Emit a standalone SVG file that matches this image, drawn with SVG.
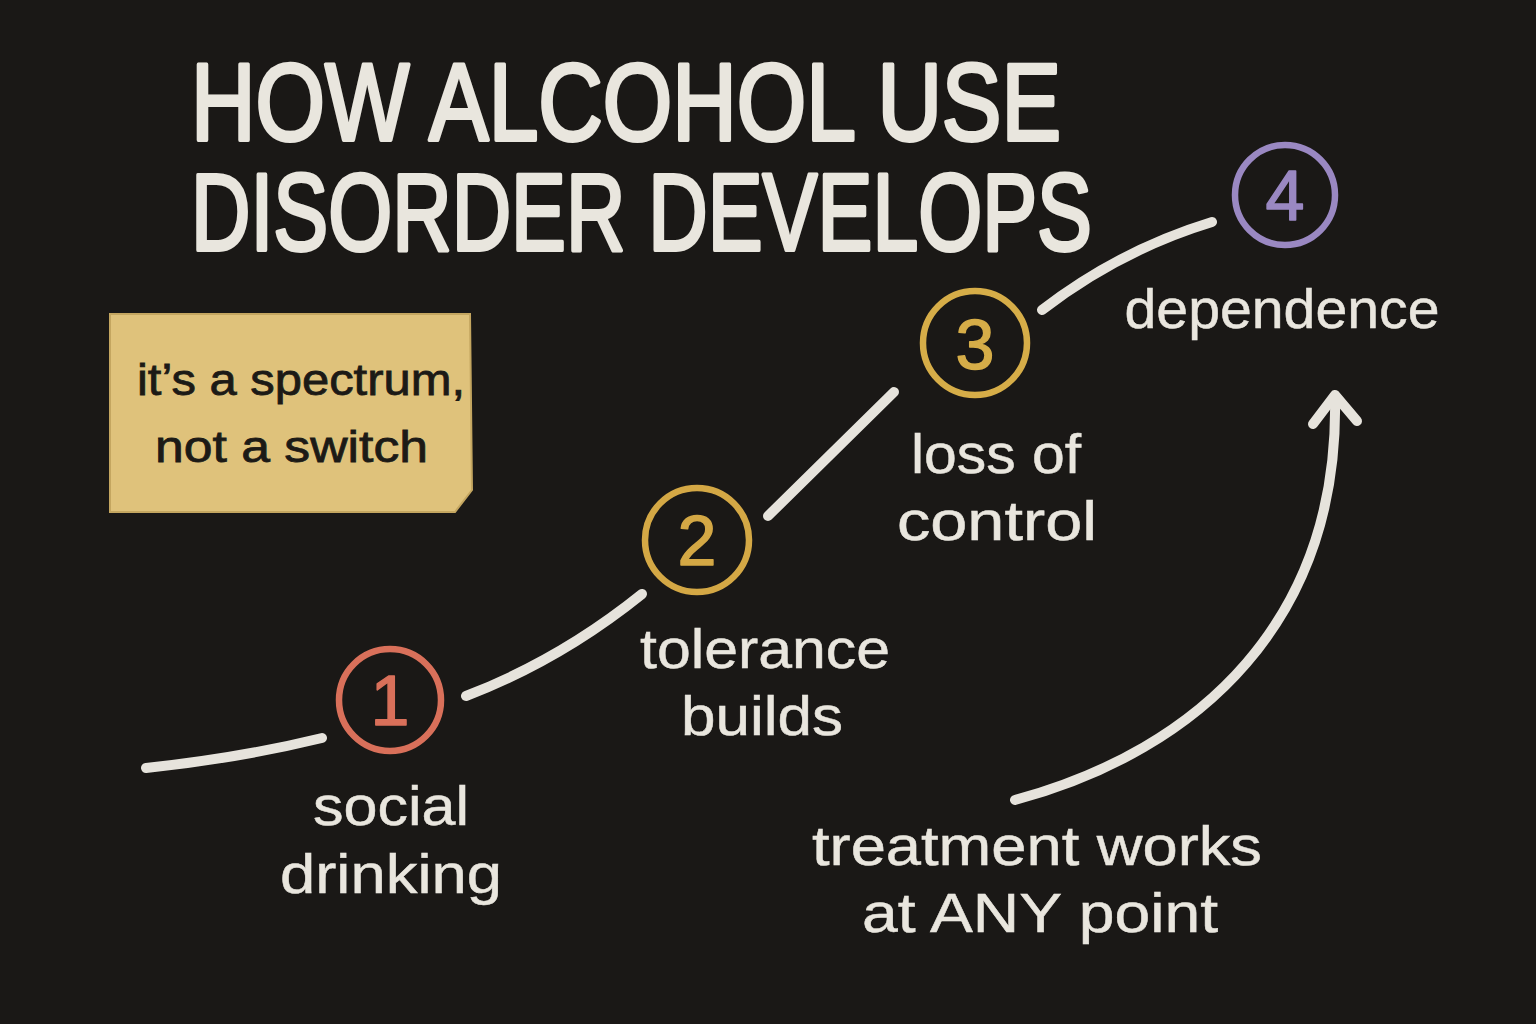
<svg xmlns="http://www.w3.org/2000/svg" width="1536" height="1024" viewBox="0 0 1536 1024">
  <defs>
    <style>
      .ink { font-family: "Liberation Sans", "DejaVu Sans", sans-serif; fill: #e9e6de; stroke: #e9e6de; }
      .title { font-size: 85px; stroke-width: 3; stroke-linejoin: round; }
      .lbl { font-size: 56px; text-anchor: middle; stroke-width: 0.5; }
      .note { font-family: "Liberation Sans", "DejaVu Sans", sans-serif; fill: #1c1a16; stroke: #1c1a16; stroke-width: 0.8; font-size: 44px; }
      .conn { fill: none; stroke: #e6e3dc; stroke-width: 10; stroke-linecap: round; stroke-linejoin: round; }
      .ring { fill: none; stroke-width: 6.5; }
      .num { font-family: "Liberation Sans", "DejaVu Sans", sans-serif; font-size: 70px; text-anchor: middle; stroke-width: 1.5; stroke-linejoin: round; }
    </style>
  </defs>
  <rect x="0" y="0" width="1536" height="1024" fill="#1a1816"/>

  <g id="title">
    <text class="ink title" transform="translate(191,140) scale(1,1.28)" x="0" y="0" textLength="870" lengthAdjust="spacingAndGlyphs">HOW ALCOHOL USE</text>
    <text class="ink title" transform="translate(191,250) scale(1,1.28)" x="0" y="0" textLength="901" lengthAdjust="spacingAndGlyphs">DISORDER DEVELOPS</text>
  </g>

  <g id="note">
    <path d="M110,314 L470,314 L472,490 L455,512 L110,512 Z" fill="#dfc27b" stroke="#c4a660" stroke-width="2"/>
    <text class="note" x="137" y="395" textLength="328" lengthAdjust="spacingAndGlyphs">it’s a spectrum,</text>
    <text class="note" x="155" y="462" textLength="273" lengthAdjust="spacingAndGlyphs">not a switch</text>
  </g>

  <g id="connectors">
    <path class="conn" d="M146,768 Q240,758 322,738"/>
    <path class="conn" d="M466,696 Q560,660 642,594"/>
    <path class="conn" d="M768,516 Q830,455 894,392"/>
    <path class="conn" d="M1042,310 Q1120,250 1212,222"/>
    <path class="conn" d="M1015,800 C1200,750 1340,620 1335,396"/>
    <path class="conn" d="M1313,424 L1335,395 L1357,421"/>
  </g>

  <g id="step1">
    <circle class="ring" cx="390" cy="700" r="51" stroke="#d9705a"/>
    <text class="num" x="390" y="725" fill="#d9705a" stroke="#d9705a">1</text>
    <text class="ink lbl" x="391" y="825" textLength="156" lengthAdjust="spacingAndGlyphs">social</text>
    <text class="ink lbl" x="391" y="893" textLength="222" lengthAdjust="spacingAndGlyphs">drinking</text>
  </g>

  <g id="step2">
    <circle class="ring" cx="697" cy="540" r="52" stroke="#d4a845"/>
    <text class="num" x="697" y="565" fill="#d4a845" stroke="#d4a845">2</text>
    <text class="ink lbl" x="765" y="668" textLength="250" lengthAdjust="spacingAndGlyphs">tolerance</text>
    <text class="ink lbl" x="762" y="735" textLength="162" lengthAdjust="spacingAndGlyphs">builds</text>
  </g>

  <g id="step3">
    <circle class="ring" cx="975" cy="343" r="52" stroke="#d6ad48"/>
    <text class="num" x="975" y="369" fill="#d6ad48" stroke="#d6ad48">3</text>
    <text class="ink lbl" x="996" y="473" textLength="170" lengthAdjust="spacingAndGlyphs">loss of</text>
    <text class="ink lbl" x="997" y="540" textLength="200" lengthAdjust="spacingAndGlyphs">control</text>
  </g>

  <g id="step4">
    <circle class="ring" cx="1285" cy="195" r="50" stroke="#9a88c2"/>
    <text class="num" x="1285" y="220" fill="#9a88c2" stroke="#9a88c2">4</text>
    <text class="ink lbl" x="1282" y="328" textLength="315" lengthAdjust="spacingAndGlyphs">dependence</text>
  </g>

  <g id="treatment">
    <text class="ink lbl" x="1037" y="865" textLength="450" lengthAdjust="spacingAndGlyphs">treatment works</text>
    <text class="ink lbl" x="1040" y="932" textLength="356" lengthAdjust="spacingAndGlyphs">at ANY point</text>
  </g>
</svg>
